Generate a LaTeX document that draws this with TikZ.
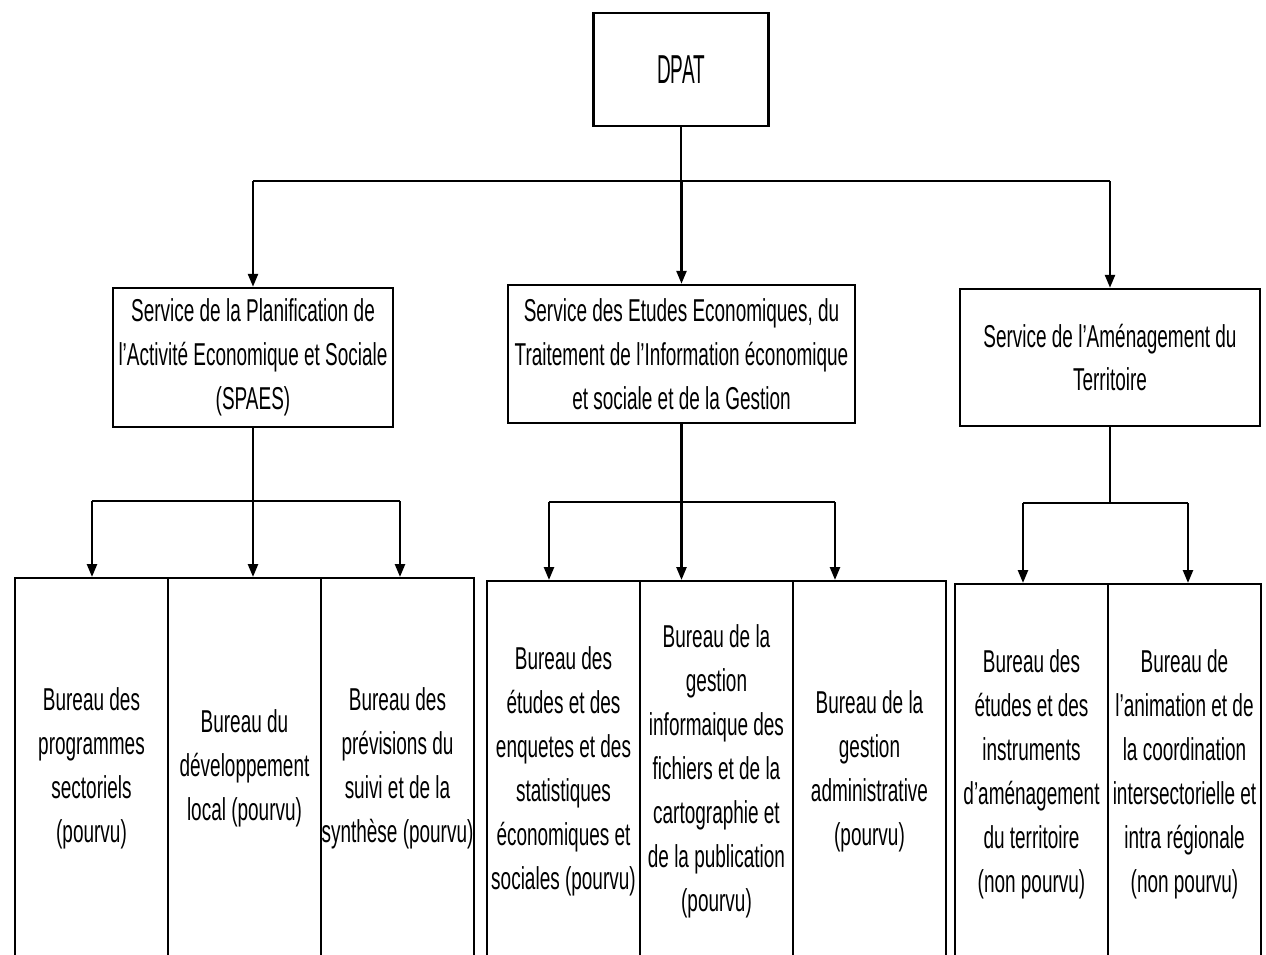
\documentclass[tikz,border=0pt]{standalone}
\usepackage{fontspec}
\setmainfont[FakeStretch=0.6]{Liberation Sans}
\newfontfamily\dpatfont[FakeStretch=0.47]{Liberation Sans}
\usetikzlibrary{arrows.meta}

\begin{document}
\begin{tikzpicture}[
        boite/.style={draw, line width=0.7pt, align=center, inner sep=0pt, font=\fontsize{9}{12.5}\selectfont},
        bureau/.style={boite, anchor=north, text width=1.53cm, align=flush center, minimum height=3.8cm},
        fleche/.style={-{Triangle[length=1.3mm,width=1mm]}, line width=0.7pt},
        trait/.style={line width=0.7pt}
    ]
        \useasboundingbox (0,0) rectangle (12.66,-9.55);
        \clip (0,0) rectangle (12.66,-9.55);

        % Direction
        \node[boite, minimum width=1.75cm, minimum height=1.13cm, font=\dpatfont\fontsize{11.5}{13}\selectfont] (dpat) at (6.81,-0.695) {DPAT};

        % Services
        \node[boite, minimum width=2.8cm, minimum height=1.39cm] (spaes) at (2.53,-3.575) {Service de la Planification de\\l'Activité Economique et Sociale\\(SPAES)};
        \node[boite, minimum width=3.47cm, minimum height=1.38cm] (setie) at (6.815,-3.54) {Service des Etudes Economiques, du\\Traitement de l'Information économique\\et sociale et de la Gestion};
        \node[boite, minimum width=3.0cm, minimum height=1.37cm] (sat) at (11.10,-3.575) {Service de l'Aménagement du\\Territoire};

        \coordinate (bus) at (6.81,-1.81);
        \draw[trait] (dpat.south) -- (bus);
        \draw[trait] (spaes.north |- bus) -- (sat.north |- bus);
        \foreach \s in {spaes,setie,sat}
            \draw[fleche] (\s.north |- bus) -- (\s.north);

        % Bureaux du SPAES
        \node[bureau] (b11) at (0.915,-5.77) {Bureau des\\programmes\\sectoriels\\(pourvu)};
        \node[bureau] (b12) at (2.445,-5.77) {Bureau du\\développement\\local~(pourvu)};
        \node[bureau] (b13) at (3.975,-5.77) {Bureau des\\prévisions~du\\suivi~et~de~la\\synthèse~(pourvu)};

        \coordinate (j11) at (0.92,-5.01);
        \coordinate (j13) at (4.00,-5.01);
        \draw[trait] (j11) -- (j13);
        \draw[fleche] (j11) -- (j11 |- b11.north);
        \draw[fleche] (spaes.south) -- (spaes.south |- b12.north);
        \draw[fleche] (j13) -- (j13 |- b13.north);

        % Bureaux du second service
        \node[bureau] (b21) at (5.635,-5.80) {Bureau des\\études~et~des\\enquetes~et~des\\statistiques\\économiques~et\\sociales~(pourvu)};
        \node[bureau] (b22) at (7.165,-5.80) {Bureau~de~la\\gestion\\informaique~des\\fichiers~et~de~la\\cartographie~et\\de~la~publication\\(pourvu)};
        \node[bureau] (b23) at (8.695,-5.80) {Bureau~de~la\\gestion\\administrative\\(pourvu)};

        \coordinate (j21) at (5.49,-5.02);
        \coordinate (j23) at (8.35,-5.02);
        \draw[trait] (j21) -- (j23);
        \draw[fleche] (j21) -- (j21 |- b21.north);
        \draw[fleche] (setie.south) -- (setie.south |- b22.north);
        \draw[fleche] (j23) -- (j23 |- b23.north);

        % Bureaux de l'aménagement
        \node[bureau] (b31) at (10.315,-5.83) {Bureau des\\études~et~des\\instruments\\d'aménagement\\du~territoire\\(non~pourvu)};
        \node[bureau] (b32) at (11.845,-5.83) {Bureau de\\l'animation~et~de\\la~coordination\\intersectorielle~et\\intra~régionale\\(non~pourvu)};

        \coordinate (j31) at (10.23,-5.03);
        \coordinate (j32) at (11.88,-5.03);
        \draw[trait] (sat.south) -- (sat.south |- j31);
        \draw[trait] (j31) -- (j32);
        \draw[fleche] (j31) -- (j31 |- b31.north);
        \draw[fleche] (j32) -- (j32 |- b32.north);
    \end{tikzpicture}
\end{document}
